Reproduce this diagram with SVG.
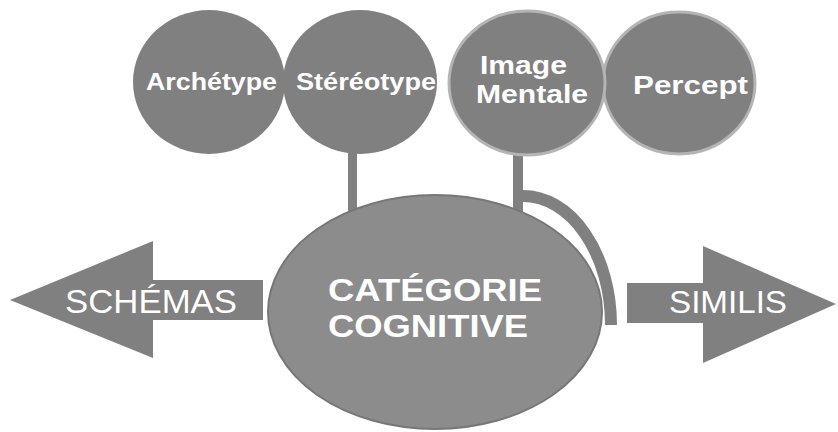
<svg xmlns="http://www.w3.org/2000/svg" width="838" height="432" viewBox="0 0 838 432">
<style>
.c{fill:#808080}
.cs{fill:#808080;stroke:#b4b4b4;stroke-width:3}
.t{font-family:"Liberation Sans",Arial,sans-serif;fill:#fff}
.b{font-weight:bold}
.line{fill:none;stroke:#808080}
</style>
<rect width="838" height="432" fill="#fff"/>
<g id="connectors">
<rect x="348" y="150" width="9" height="70" class="c"/>
<rect x="513" y="152" width="10" height="62" class="c"/>
<path d="M523 196 A88 129 0 0 1 611 325" class="line" stroke-width="12"/>
</g>
<g id="schemas">
<polygon points="10,300 153,241 153,280 263,280 263,320 153,320 153,358" class="c"/>
<text x="65" y="313" class="t" font-size="33" textLength="172" lengthAdjust="spacingAndGlyphs">SCHÉMAS</text>
</g>
<g id="similis">
<polygon points="836,304 703,246 703,283 627,283 627,323 703,323 703,363" class="c"/>
<text x="669" y="313" class="t" font-size="32" textLength="118" lengthAdjust="spacingAndGlyphs">SIMILIS</text>
</g>
<g id="categorie">
<ellipse cx="435" cy="312" rx="167" ry="117" fill="#8c8c8c" stroke="#777" stroke-width="2"/>
<text class="t b" font-size="32"><tspan x="328" y="301" textLength="214" lengthAdjust="spacingAndGlyphs">CATÉGORIE</tspan><tspan x="328" y="337" textLength="200" lengthAdjust="spacingAndGlyphs">COGNITIVE</tspan></text>
</g>
<g id="archetype">
<ellipse cx="209" cy="82" rx="76" ry="72" class="c"/>
<text x="146" y="90" class="t b" font-size="23" textLength="131" lengthAdjust="spacingAndGlyphs">Archétype</text>
</g>
<g id="stereotype">
<ellipse cx="360" cy="82" rx="77" ry="72" class="c"/>
<text x="296" y="90" class="t b" font-size="23" textLength="140" lengthAdjust="spacingAndGlyphs">Stéréotype</text>
</g>
<g id="percept">
<ellipse cx="679" cy="83" rx="76" ry="71" class="cs"/>
<text x="633" y="94" class="t b" font-size="25" textLength="115" lengthAdjust="spacingAndGlyphs">Percept</text>
</g>
<g id="image-mentale">
<ellipse cx="527" cy="83" rx="78" ry="72" class="cs"/>
<text class="t b" font-size="26"><tspan x="480" y="74" textLength="87" lengthAdjust="spacingAndGlyphs">Image</tspan><tspan x="476" y="103" textLength="112" lengthAdjust="spacingAndGlyphs">Mentale</tspan></text>
</g>
</svg>
